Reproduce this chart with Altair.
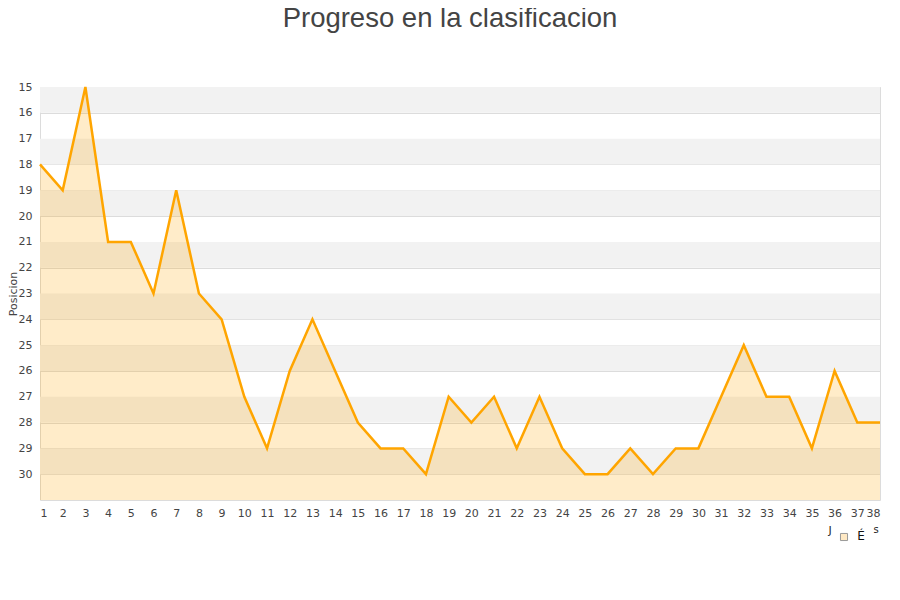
import altair as alt
import pandas as pd

jornadas = list(range(1, 39))
posiciones = [18, 19, 15, 21, 21, 23, 19, 23, 24, 27, 29, 26, 24, 26, 28, 29, 29, 30,
              27, 28, 27, 29, 27, 29, 30, 30, 29, 30, 29, 29, 27, 25, 27, 27, 29, 26, 28, 28]
band_starts = [15, 17, 19, 21, 23, 25, 27, 29]
y_ticks = list(range(15, 31))

df = pd.DataFrame({"Jornada": jornadas, "Posicion": posiciones})
bands = pd.DataFrame({"y0": band_starts, "y1": [b + 1 for b in band_starts]})

yscale = alt.Scale(domain=[15, 31], reverse=True, nice=False, zero=False)
xscale = alt.Scale(domain=[1, 38], nice=False, zero=False)

yaxis = alt.Axis(values=y_ticks, title="Posicion", grid=True, gridColor="#dcdcdc",
                 ticks=False, labelPadding=8, domain=False, titlePadding=0,
                 format="d", labelOverlap=False)
xaxis = alt.Axis(values=jornadas, title=None, grid=False, ticks=False,
                 labelPadding=7, domain=False, format="d", labelOverlap=False)

band_layer = alt.Chart(bands).mark_rect(color="#f2f2f2").encode(
    x=alt.value(0), x2=alt.value(840),
    y=alt.Y("y0:Q", scale=yscale, axis=yaxis),
    y2="y1:Q",
)

area = alt.Chart(df).mark_area(color="#FFA500", opacity=0.21).encode(
    x=alt.X("Jornada:Q", scale=xscale, axis=xaxis),
    y=alt.Y("Posicion:Q", scale=yscale, axis=yaxis),
    y2=alt.datum(31),
)

line = alt.Chart(df).mark_line(color="#FFA500", strokeWidth=2.5).encode(
    x=alt.X("Jornada:Q", scale=xscale, axis=xaxis),
    y=alt.Y("Posicion:Q", scale=yscale, axis=yaxis),
)

one = pd.DataFrame({"k": [0]})
legend_j = alt.Chart(one).mark_text(text="J", fontSize=11, font="DejaVu Sans", color="#222").encode(
    x=alt.value(790), y=alt.value(444))
legend_sq = alt.Chart(one).mark_point(shape="square", filled=True, size=50, color="#ffe9c4",
                                      stroke="#999", strokeWidth=1, opacity=1).encode(
    x=alt.value(804), y=alt.value(450))
legend_e = alt.Chart(one).mark_text(text="É", fontSize=12, font="DejaVu Sans", color="#111").encode(
    x=alt.value(821), y=alt.value(449))
legend_s = alt.Chart(one).mark_text(text="s", fontSize=10, font="DejaVu Sans", color="#222").encode(
    x=alt.value(836), y=alt.value(443))

chart = alt.layer(band_layer, area, line, legend_j, legend_sq, legend_e, legend_s).properties(
    width=840, height=413,
    autosize=alt.AutoSizeParams(type="none"),
    padding={"left": 32, "top": 79, "right": 12, "bottom": 85},
    title=alt.TitleParams("Progreso en la clasificacion", font="Liberation Sans", fontSize=27.5,
                          fontWeight="normal", color="#444", anchor="middle", frame="group",
                          baseline="alphabetic", offset=27, dx=-10),
).configure_view(stroke="#dcdcdc", strokeWidth=1).configure_axis(
    labelFont="DejaVu Sans", labelFontSize=11, labelColor="#444",
    titleFont="DejaVu Sans", titleFontSize=11, titleColor="#444", titleFontWeight="normal",
)

chart.save("out.html", embed_options={"renderer": "svg", "actions": False})
